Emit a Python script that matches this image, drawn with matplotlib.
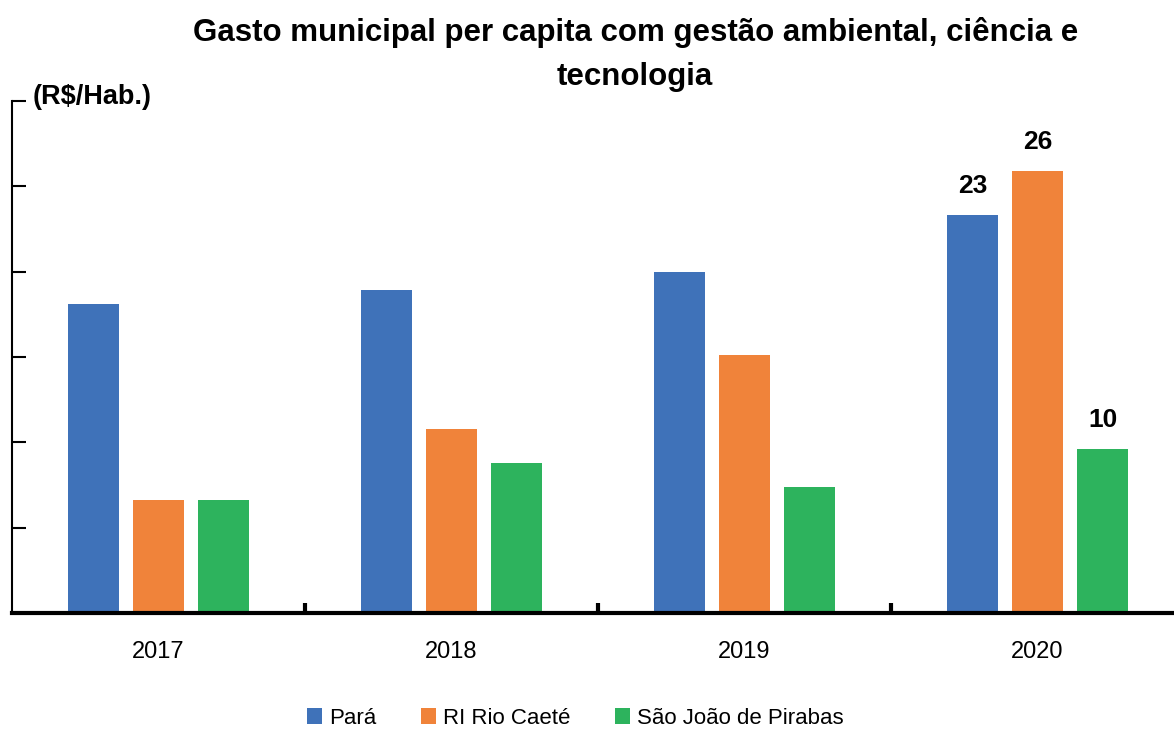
import matplotlib
matplotlib.use("Agg")
import matplotlib.pyplot as plt
import numpy as np
from matplotlib.patches import Patch

plt.rcParams["font.family"] = ["Liberation Sans", "DejaVu Sans"]

years = ["2017", "2018", "2019", "2020"]
series_names = ["Pará", "RI Rio Caeté", "São João de Pirabas"]
para = [18.1, 18.9, 20.0, 23.3]
ri_rio_caete = [6.6, 10.8, 15.1, 25.9]
sao_joao = [6.6, 8.8, 7.4, 9.6]
# only the 2020 bars carry value labels in the reference
labels_2020 = ["23", "26", "10"]

colors = ["#3f72b9", "#f0833a", "#2db35d"]

fig = plt.figure(figsize=(11.74, 7.32), dpi=100)
ax = fig.add_axes([12 / 1174, 1 - 613 / 732, 1172 / 1174, 512 / 732])

x = np.arange(len(years))
step = 0.222
width = 0.175
for i, (vals, col) in enumerate(zip([para, ri_rio_caete, sao_joao], colors)):
    pos = x + (i - 1) * step
    ax.bar(pos, vals, width=width, color=col, edgecolor="none", zorder=2)
    ax.text(pos[-1], vals[-1] + 1.0, labels_2020[i], ha="center", va="bottom",
            fontsize=19, fontweight="bold")

ax.set_xlim(-0.5, 3.5)
ax.set_ylim(0, 30)
ax.set_yticks(np.arange(0, 31, 5))
ax.set_yticklabels([])
ax.tick_params(axis="y", direction="in", length=10, width=1.5, left=True)
ax.set_xticks(x[:-1] + 0.5)
ax.set_xticklabels([])
ax.tick_params(axis="x", direction="in", length=7, width=3)
for xi, yr in zip(x, years):
    ax.text(xi, -0.077, yr, transform=ax.get_xaxis_transform(), ha="center",
            va="center", fontsize=17)

for side in ["top", "right"]:
    ax.spines[side].set_visible(False)
ax.spines["left"].set_linewidth(1.5)
ax.spines["bottom"].set_linewidth(3)
ax.spines["bottom"].set_zorder(3)

fig.text(0.541, 0.9255, "Gasto municipal per capita com gestão ambiental, ciência e\ntecnologia",
         ha="center", va="center", fontsize=22.5, fontweight="bold", linespacing=1.6)
fig.text(33 / 1174, 1 - 97 / 732, "(R$/Hab.)", ha="left", va="center",
         fontsize=19.5, fontweight="bold")

handles = [Patch(facecolor=c, edgecolor="none") for c in colors]
fig.legend(handles, series_names, loc="center", bbox_to_anchor=(0.49, 1 - 718 / 732),
           ncol=3, frameon=False, fontsize=16, handlelength=0.7, handleheight=0.7,
           handletextpad=0.3, columnspacing=2.0)

fig.savefig("out.png", dpi=100)
